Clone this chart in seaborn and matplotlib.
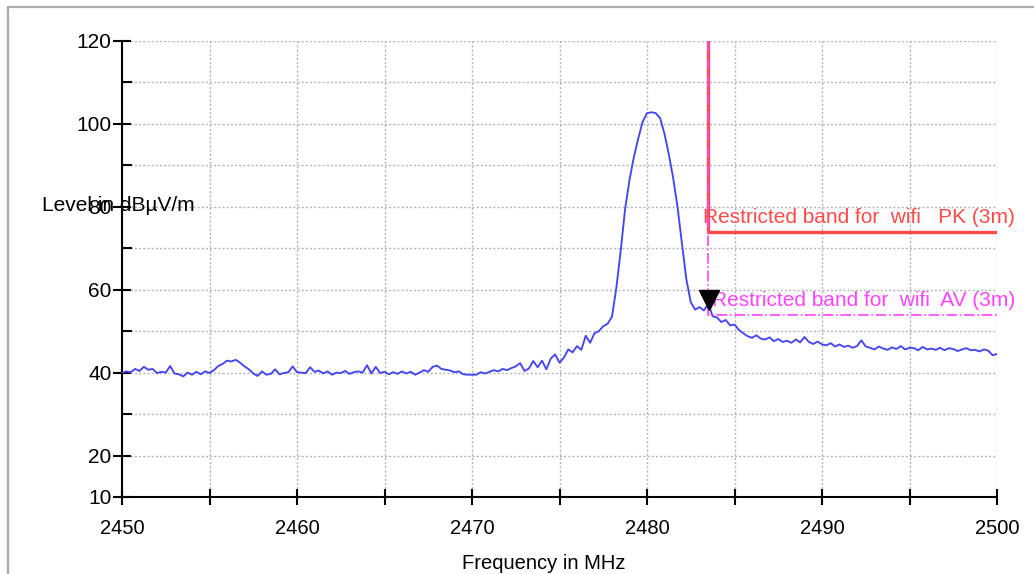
import numpy as np
import matplotlib
matplotlib.use('Agg')
import matplotlib.pyplot as plt
import seaborn as sns
from matplotlib.lines import Line2D

# measured level (dBuV/m), one reading every 0.25 MHz from 2450 MHz
level = [
    40.0, 40.3, 40.1, 40.9, 40.4, 41.4, 40.7, 40.9, 39.9, 40.2,
    40.0, 41.6, 39.8, 39.6, 39.1, 40.0, 39.5, 40.2, 39.6, 40.3,
    39.9, 40.6, 41.6, 42.1, 42.9, 42.7, 43.1, 42.4, 41.5, 40.8,
    39.8, 39.2, 40.3, 39.5, 39.7, 40.8, 39.6, 39.9, 40.1, 41.5,
    40.1, 40.0, 39.9, 41.3, 40.2, 40.5, 39.8, 40.3, 39.5, 40.0,
    39.9, 40.4, 39.7, 40.1, 40.3, 40.0, 41.8, 39.8, 41.4, 39.9,
    40.2, 39.6, 40.1, 39.7, 40.3, 39.8, 40.2, 39.5, 40.0, 40.6,
    40.2, 41.4, 41.7, 40.9, 40.7, 40.5, 40.1, 40.3, 39.6, 39.5,
    39.5, 39.5, 40.1, 39.8, 40.2, 40.6, 40.3, 40.9, 40.6, 41.1,
    41.5, 42.3, 40.4, 41.0, 42.8, 41.3, 42.9, 40.8, 43.4, 44.4,
    42.4, 43.6, 45.6, 44.9, 46.4, 45.5, 48.9, 47.2, 49.5, 50.0,
    51.2, 51.8, 53.5, 60.5, 69.5, 79.5, 86.5, 92.0, 96.5, 100.5,
    102.6, 102.8, 102.6, 101.4, 97.6, 92.6, 86.8, 79.8, 71.0, 62.5,
    57.0, 55.2, 55.8, 55.0, 56.6, 53.6, 53.3, 52.2, 52.7, 51.4,
    51.6, 50.3, 49.5, 48.8, 48.4, 49.0, 48.2, 48.0, 48.5, 47.6,
    48.1, 47.4, 47.7, 47.2, 48.0, 47.3, 48.6, 47.4, 46.9, 47.5,
    46.8, 46.6, 47.1, 46.3, 46.8, 46.2, 46.5, 46.0, 46.4, 47.8,
    46.3, 46.0, 45.6, 46.3, 45.8, 45.5, 46.1, 45.7, 46.4, 45.6,
    46.0, 45.9, 45.4, 46.2, 45.6, 45.8, 45.5, 46.0, 45.4, 45.9,
    45.7, 45.2, 45.6, 45.9, 45.4, 45.5, 45.1, 45.6, 45.3, 44.2,
    44.5,
]
freq = 2450 + 0.25 * np.arange(len(level))

# restricted band limit lines
limit_freq = [2483.5, 2483.5, 2500]
pk_limit = [120, 74, 74]
av_limit = [120, 54, 54]
marker_freq = 2483.55
marker_level = 57.6

pk_text = 'Restricted band for  wifi   PK (3m)'
av_text = 'Restricted band for  wifi  AV (3m)'

x_major = [2450, 2460, 2470, 2480, 2490, 2500]
x_minor = [2455, 2465, 2475, 2485, 2495]
y_major = [10, 20, 40, 60, 80, 100, 120]
y_minor = [30, 50, 70, 90, 110]

sns.set_style('white')
plt.rcParams['font.family'] = ['Liberation Sans', 'DejaVu Sans']
plt.rcParams['text.color'] = 'black'
plt.rcParams['xtick.color'] = 'black'
plt.rcParams['ytick.color'] = 'black'

fig = plt.figure(figsize=(10.34, 5.74), dpi=100)
ax = fig.add_axes([122 / 1034, 1 - 497 / 574, 875 / 1034, 456 / 574])

sns.lineplot(x=freq, y=level, ax=ax, color='#4646f0', linewidth=1.35,
             estimator=None, sort=False, zorder=3)
ax.plot(limit_freq, pk_limit, color='#ff4a4a', lw=2.4, zorder=4)
ax.plot(limit_freq, av_limit, color='#ff44ff', lw=1.2, ls='-.', zorder=5)
ax.plot([marker_freq], [marker_level], marker='v', color='black',
        markersize=14, zorder=6, ls='none')

ax.text(2483.2, 77.4, pk_text, color='#ff4a4a', fontsize=15, va='center', ha='left')
ax.text(2483.7, 57.3, av_text, color='#ff44ff', fontsize=15, va='center', ha='left')

ax.set_xlim(2450, 2500)
ax.set_ylim(10, 120)
ax.set_xticks(x_major)
ax.set_xticks(x_minor, minor=True)
ax.set_yticks(y_major)
ax.set_yticks(y_minor, minor=True)
ax.grid(which='both', color='#b4b4b4', linestyle=(0, (1.5, 1.5)), linewidth=1)

ax.tick_params(axis='x', which='both', bottom=True, direction='inout', length=12,
               width=1.5, color='black', labelsize=14.5, labelcolor='black', pad=10)
ax.tick_params(axis='y', which='major', left=True, direction='inout', length=13,
               width=1.5, color='black', labelsize=15, labelcolor='black', pad=1)
ax.tick_params(axis='y', which='minor', left=True, direction='in', length=7,
               width=1.5, color='black')

for s in ['top', 'right']:
    ax.spines[s].set_visible(False)
for s in ['left', 'bottom']:
    ax.spines[s].set_color('black')
    ax.spines[s].set_linewidth(1.5)

ax.set_xlabel('')
ax.set_ylabel('')
fig.text(42 / 1034, 1 - 205 / 574, 'Level in dBµV/m', fontsize=15, va='center', ha='left',
         color='black')
fig.text(544 / 1034, 1 - 569 / 574, 'Frequency in MHz', fontsize=14.5, va='baseline',
         ha='center', color='black')

# outer frame (top and left edges only visible)
fig.add_artist(Line2D([8 / 1034, 1], [1 - 7 / 574, 1 - 7 / 574], transform=fig.transFigure,
                      color='#aaaaaa', lw=1.6))
fig.add_artist(Line2D([8 / 1034, 8 / 1034], [0, 1 - 7 / 574], transform=fig.transFigure,
                      color='#aaaaaa', lw=1.6))

fig.savefig('out.png', dpi=100)
